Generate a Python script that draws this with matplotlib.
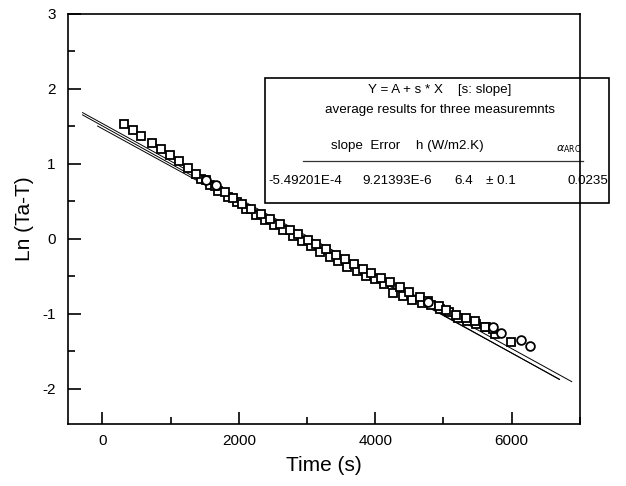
import numpy as np
import matplotlib
matplotlib.use("Agg")
import matplotlib.pyplot as plt
from matplotlib.ticker import MultipleLocator

plt.rcParams['font.family'] = ['Liberation Sans', 'DejaVu Sans']
plt.rcParams['axes.unicode_minus'] = False

# measurement 1 (squares, upper run)
t_a = [312, 449, 572, 727, 855, 987, 1119, 1255, 1378, 1525, 1646, 1793, 1915,
       2052, 2184, 2331, 2463, 2599, 2746, 2867, 3014, 3137, 3284, 3420, 3552,
       3684, 3820, 3944, 4090, 4212, 4358, 4495, 4652, 4773, 4935, 5043, 5179,
       5326, 5458, 5605, 5726, 5986]
ln_a = [1.53, 1.45, 1.37, 1.28, 1.20, 1.12, 1.04, 0.95, 0.87, 0.78, 0.70, 0.62,
        0.55, 0.47, 0.40, 0.33, 0.26, 0.20, 0.12, 0.06, -0.01, -0.07, -0.14,
        -0.21, -0.27, -0.33, -0.40, -0.45, -0.52, -0.58, -0.64, -0.71, -0.77,
        -0.83, -0.89, -0.95, -1.01, -1.06, -1.10, -1.17, -1.20, -1.37]

# measurement 2 (squares, lower run)
t_b = [1440, 1580, 1700, 1840, 1970, 2110, 2250, 2380, 2520, 2650, 2790, 2920,
       3060, 3190, 3330, 3460, 3590, 3730, 3860, 3990, 4130, 4260, 4400, 4540,
       4680, 4810, 4950, 5080, 5210, 5350, 5480, 5620, 5750]
ln_b = [0.80, 0.72, 0.64, 0.56, 0.49, 0.40, 0.32, 0.25, 0.18, 0.12, 0.04, -0.03,
        -0.10, -0.17, -0.24, -0.30, -0.37, -0.43, -0.49, -0.53, -0.60, -0.72,
        -0.76, -0.82, -0.85, -0.88, -0.93, -0.98, -1.05, -1.09, -1.14, -1.18,
        -1.27]

# measurement 3 (circles)
t_c = [1520, 1660, 4770, 5720, 5850, 6130, 6274]
ln_c = [0.79, 0.72, -0.84, -1.18, -1.25, -1.35, -1.43]

# linear fits: intercept, slope, x range
fit_a0 = [1.539, 1.507, 1.470]
fit_s = [-5.006e-4, -5.05e-4, -4.99e-4]
fit_x0 = [-290, -290, -70]
fit_x1 = [6880, 6700, 6700]

fig = plt.figure(figsize=(6.26, 4.86), dpi=100)
ax = fig.add_axes([0.109, 0.1276, 0.8174, 0.8436])

for a0, s, x0, x1 in zip(fit_a0, fit_s, fit_x0, fit_x1):
    xx = np.array([x0, x1])
    ax.plot(xx, a0 + s * xx, color='black', lw=0.7)

mk = dict(linestyle='none', mfc='white', mec='black', mew=1.3, ms=6.3)
ax.plot(t_b, ln_b, marker='s', **mk)
ax.plot(t_a, ln_a, marker='s', **mk)
ax.plot(t_c, ln_c, marker='o', **mk)

ax.set_xlim(-500, 7000)
ax.set_ylim(-2.47, 3)
ax.xaxis.set_major_locator(MultipleLocator(2000))
ax.xaxis.set_minor_locator(MultipleLocator(1000))
ax.yaxis.set_major_locator(MultipleLocator(1))
ax.yaxis.set_minor_locator(MultipleLocator(0.5))
ax.tick_params(which='both', direction='in', top=False, right=False,
               labelsize=11, width=1.2)
ax.tick_params(which='major', length=9, pad=7)
ax.tick_params(axis='y', which='major', pad=9)
ax.tick_params(which='minor', length=5)
for sp in ax.spines.values():
    sp.set_linewidth(1.2)

ax.set_xlabel('Time (s)', fontsize=15, labelpad=6)
ax.set_ylabel('Ln (Ta-T)', fontsize=15, labelpad=6)

# results box
box = plt.Rectangle((0.384, 0.539), 0.673, 0.305, transform=ax.transAxes,
                    fill=False, lw=1.2, clip_on=False, color='black')
ax.add_patch(box)
tr = ax.transAxes
def px(x, y):
    return ((x - 68.3) / 511.7, (424 - y) / 410)

kw = dict(transform=tr, fontsize=9.6, va='center', clip_on=False)
ax.text(*px(440, 90), 'Y = A + s * X    [s: slope]', ha='center', **kw)
ax.text(*px(440, 110), 'average results for three measuremnts', ha='center', **kw)
ax.text(*px(331, 146), 'slope  Error', ha='left', **kw)
ax.text(*px(416, 146), 'h (W/m2.K)', ha='left', **kw)
ax.text(*px(556, 149), r'$\alpha_{\mathrm{ARC}}$', ha='left', transform=tr,
        fontsize=8, va='center')
ax.plot([px(303, 0)[0], px(583, 0)[0]], [px(0, 161)[1]] * 2, transform=tr,
        color='#333333', lw=0.9, clip_on=False)
ax.text(*px(268, 181), '-5.49201E-4', ha='left', **kw)
ax.text(*px(362, 181), '9.21393E-6', ha='left', **kw)
ax.text(*px(454, 181), '6.4', ha='left', **kw)
ax.text(*px(486, 181), '\u00b1 0.1', ha='left', **kw)
ax.text(*px(608, 181), '0.0235', ha='right', **kw)

fig.savefig('out.png', dpi=100)
